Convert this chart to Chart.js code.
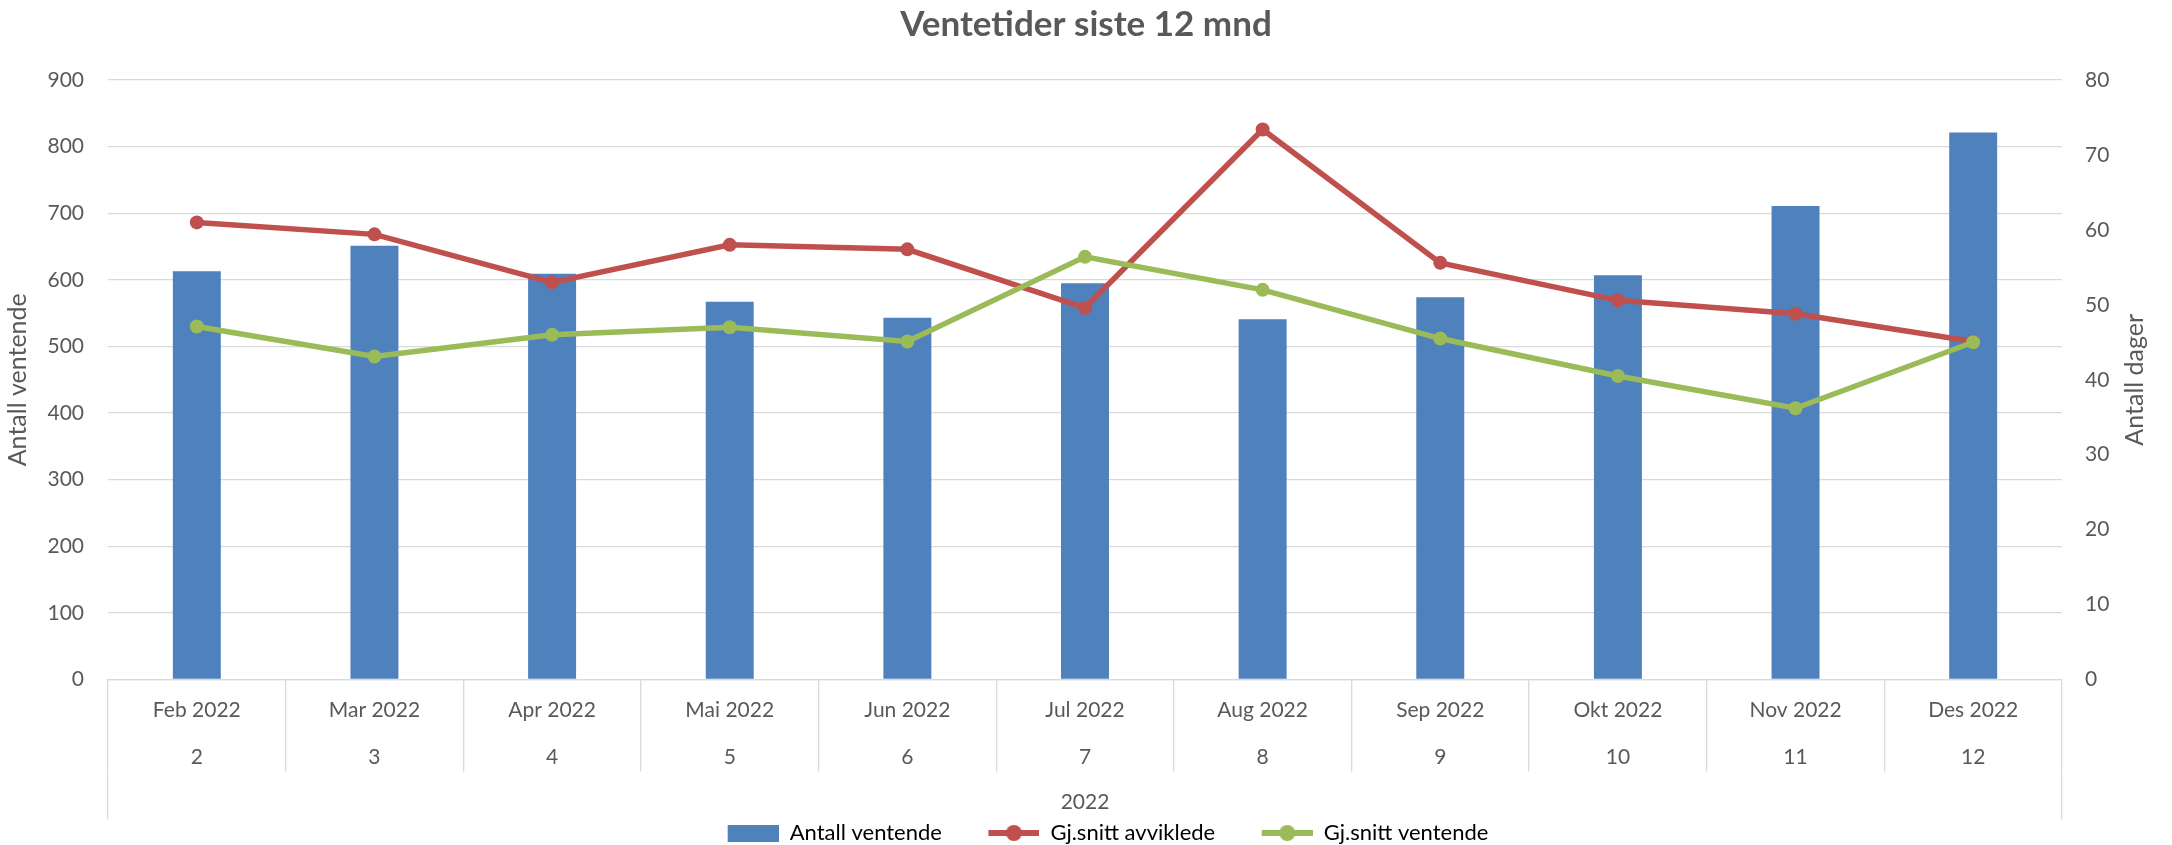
<!DOCTYPE html>
<html>
<head>
<meta charset="utf-8">
<script src="https://cdn.jsdelivr.net/npm/chart.js@4.4.0/dist/chart.umd.min.js"></script>
<style>
  body { margin: 0; background: #fff; }
  #ramme { width: 2172px; height: 845px; }
</style>
</head>
<body>
<div id="ramme"><canvas id="grafVentetid"></canvas></div>
<script>
const maneder = ["Feb 2022", "Mar 2022", "Apr 2022", "Mai 2022", "Jun 2022", "Jul 2022",
                 "Aug 2022", "Sep 2022", "Okt 2022", "Nov 2022", "Des 2022"];
const manedNr = ["2", "3", "4", "5", "6", "7", "8", "9", "10", "11", "12"];
const aar = ["2022"];

const antallVentende = [613, 651, 609, 567, 543, 595, 541, 574, 607, 711, 821];
const snittAvviklede = [61.0, 59.4, 53.0, 58.0, 57.4, 49.6, 73.4, 55.6, 50.6, 48.8, 45.1];
const snittVentende = [47.1, 43.1, 46.0, 47.0, 45.1, 56.4, 52.0, 45.5, 40.5, 36.2, 45.0];

const ticksVenstre = [0, 100, 200, 300, 400, 500, 600, 700, 800, 900];
const ticksHoyre = [0, 10, 20, 30, 40, 50, 60, 70, 80];

const BLA = "#4F81BD";
const ROD = "#C0504D";
const GRONN = "#9BBB59";
const GRID = "#D9D9D9";
const TEKST = "#595959";

Chart.defaults.font.family = "Lato";
Chart.defaults.color = TEKST;

// små lerret som brukes som legend-markører (søyle / linje med punkt)
function lagMarkor(farge, type) {
    const c = document.createElement("canvas");
    c.width = 95;
    c.height = 22;
    const g = c.getContext("2d");
    g.fillStyle = farge;
    if (type === "bar") {
        g.fillRect(44, 3, 51, 17);
    } else {
        g.strokeStyle = farge;
        g.lineWidth = 6;
        g.beginPath();
        g.moveTo(44, 11);
        g.lineTo(95, 11);
        g.stroke();
        g.beginPath();
        g.arc(69.5, 11, 8, 0, Math.PI * 2);
        g.fill();
    }
    return c;
}

const hoyreTittel = {
    id: "hoyreTittel",
    afterDraw(chart) {
        const s = chart.scales.y1;
        const ctx = chart.ctx;
        ctx.save();
        ctx.translate(s.right - 37, (chart.chartArea.top + chart.chartArea.bottom) / 2);
        ctx.rotate(-Math.PI / 2);
        ctx.font = "25px Lato";
        ctx.fillStyle = TEKST;
        ctx.textAlign = "center";
        ctx.textBaseline = "middle";
        ctx.fillText("Antall dager", 0, 0);
        ctx.restore();
    }
};

const ctx = document.getElementById("grafVentetid").getContext("2d");
new Chart(ctx, {
    type: "bar",
    data: {
        labels: maneder.map((m, i) => [m, manedNr[i]]),
        datasets: [
            {
                type: "bar", label: "Antall ventende", data: antallVentende,
                backgroundColor: BLA, xAxisID: "x", yAxisID: "y",
                barPercentage: 0.27, categoryPercentage: 1, order: 3
            },
            {
                type: "line", label: "Gj.snitt avviklede", data: snittAvviklede,
                borderColor: ROD, backgroundColor: ROD, borderWidth: 5.5,
                pointRadius: 7, pointBorderWidth: 0, pointBackgroundColor: ROD,
                tension: 0, xAxisID: "x", yAxisID: "y1", order: 2
            },
            {
                type: "line", label: "Gj.snitt ventende", data: snittVentende,
                borderColor: GRONN, backgroundColor: GRONN, borderWidth: 5.5,
                pointRadius: 7, pointBorderWidth: 0, pointBackgroundColor: GRONN,
                tension: 0, xAxisID: "x", yAxisID: "y1", order: 1
            }
        ]
    },
    options: {
        responsive: true,
        maintainAspectRatio: false,
        animation: false,
        devicePixelRatio: 1,
        layout: { padding: { left: 0, right: 0, top: 0, bottom: -9 } },
        plugins: {
            title: {
                display: true,
                text: "Ventetider siste 12 mnd",
                color: TEKST,
                font: { size: 35, weight: "bold", lineHeight: 1.2 },
                padding: { top: 4, bottom: 34 }
            },
            legend: {
                position: "bottom",
                labels: {
                    usePointStyle: true,
                    pointStyleWidth: 95,
                    padding: 2.5,
                    font: { size: 22 },
                    color: TEKST,
                    generateLabels: (chart) => chart.data.datasets.map((ds, i) => ({
                        text: ds.label,
                        fillStyle: ds.backgroundColor,
                        strokeStyle: ds.backgroundColor,
                        lineWidth: 0,
                        pointStyle: lagMarkor(i === 0 ? BLA : ds.borderColor, i === 0 ? "bar" : "line"),
                        hidden: false,
                        datasetIndex: i
                    }))
                }
            },
            tooltip: { enabled: false }
        },
        scales: {
            x: {
                position: "bottom",
                offset: true,
                grid: { display: true, drawOnChartArea: false, offset: true, tickLength: 92, color: GRID, lineWidth: 1.3 },
                border: { display: true, color: GRID, width: 1.3 },
                ticks: {
                    autoSkip: false, maxRotation: 0, padding: -85,
                    font: { size: 21, lineHeight: 2.24 }, color: TEKST
                },
                afterFit: (s) => { s.height = 92; }
            },
            x2: {
                type: "category",
                labels: aar,
                position: "bottom",
                offset: true,
                weight: 1,
                grid: { display: true, drawOnChartArea: false, offset: true, tickLength: 48, color: GRID, lineWidth: 1.3 },
                border: { display: false },
                ticks: { maxRotation: 0, padding: -30.3, font: { size: 21, lineHeight: 1.2 }, color: TEKST },
                afterFit: (s) => { s.height = 48; }
            },
            y: {
                position: "left",
                min: 0, max: 900,
                grid: { color: GRID, lineWidth: 1.3, drawTicks: false },
                border: { display: false },
                ticks: { padding: 24, font: { size: 21 }, color: TEKST },
                afterBuildTicks: (s) => { s.ticks = ticksVenstre.map(v => ({ value: v })); },
                title: { display: true, text: "Antall ventende", color: TEKST, font: { size: 25 }, padding: { top: 3, bottom: 4 } },
                afterFit: (s) => { s.width = 108; }
            },
            y1: {
                position: "right",
                min: 0, max: 80,
                grid: { drawOnChartArea: false, drawTicks: false },
                border: { display: false },
                ticks: { padding: 23, font: { size: 21 }, color: TEKST },
                afterBuildTicks: (s) => { s.ticks = ticksHoyre.map(v => ({ value: v })); },
                afterFit: (s) => { s.width = 110; }
            }
        }
    },
    plugins: [hoyreTittel]
});
</script>
</body>
</html>
